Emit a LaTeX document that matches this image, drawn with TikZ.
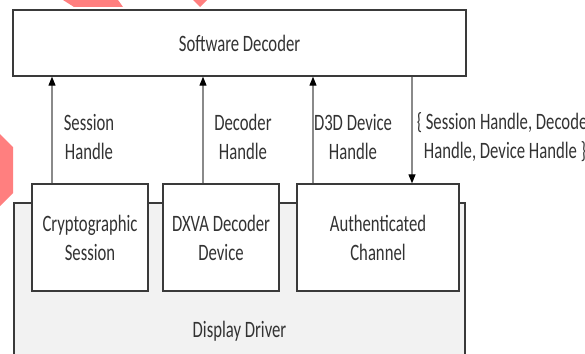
\documentclass[tikz,border=0pt]{standalone}
\usepackage{fontspec}
\setmainfont[FakeStretch=0.71]{Carlito}
\usetikzlibrary{arrows.meta}
\definecolor{boxline}{HTML}{3A3A3A}
\definecolor{txt}{HTML}{333333}
\definecolor{arrline}{HTML}{8A8A8A}
\definecolor{drvfill}{HTML}{F2F2F2}
\definecolor{pinkish}{HTML}{FF7F7F}
\tikzset{
  boxstyle/.style={draw=boxline, line width=1.3pt, fill=white, inner sep=0pt, text=txt, align=center},
  lbl/.style={inner sep=0pt, text=txt, align=center},
  uparr/.style={draw=arrline, line width=1.1pt, -{Triangle[width=7pt,length=9pt,fill=black,color=black]}},
}
\begin{document}
\begin{tikzpicture}[x=1pt,y=-1pt,font=\fontsize{23.5}{29}\selectfont]
\useasboundingbox (0,0) rectangle (585,353);
\clip (0,0) rectangle (585,353);
% decorative pink shapes
\fill[pinkish] (63,0) -- (118,0) -- (123,7) -- (74,7) -- cycle;
\fill[pinkish] (193,0) -- (207,0) -- (200,7) -- cycle;
\fill[pinkish] (-1,133) -- (13,147) -- (13,193) -- (-1,207) -- cycle;
% display driver
\draw[draw=boxline, line width=1.3pt, fill=drvfill] (14,203) rectangle (465,370);
\node[lbl] (dd) at (239.5,331) {Display Driver};
% software decoder
\node[boxstyle, minimum width=453pt, minimum height=66pt] (sd) at (239.5,43) {Software Decoder};
% inner boxes
\node[boxstyle, minimum width=116pt, minimum height=107pt] (cs) at (90,237.5) {Cryptographic\\Session};
\node[boxstyle, minimum width=116pt, minimum height=107pt] (dx) at (221,237.5) {DXVA Decoder\\Device};
\node[boxstyle, minimum width=162pt, minimum height=107pt] (ac) at (378,237.5) {Authenticated\\Channel};
% arrow positions
\coordinate (a1) at (52,0);
\coordinate (a2) at (203,0);
\coordinate (a3) at (313,0);
\coordinate (a4) at (412,0);
\draw[uparr] (cs.north -| a1) -- (sd.south -| a1);
\draw[uparr] (dx.north -| a2) -- (sd.south -| a2);
\draw[uparr] (ac.north -| a3) -- (sd.south -| a3);
\draw[uparr] (sd.south -| a4) -- (ac.north -| a4);
% labels
\node[lbl] (l1) at (89,137) {Session\\Handle};
\node[lbl] (l2) at (243,137) {Decoder\\Handle};
\node[lbl] (l3) at (353,137) {D3D Device\\Handle};
\node[lbl] (l4) at (505,137) {\{ Session Handle, Decoder\\Handle, Device Handle \}};
\end{tikzpicture}
\end{document}
